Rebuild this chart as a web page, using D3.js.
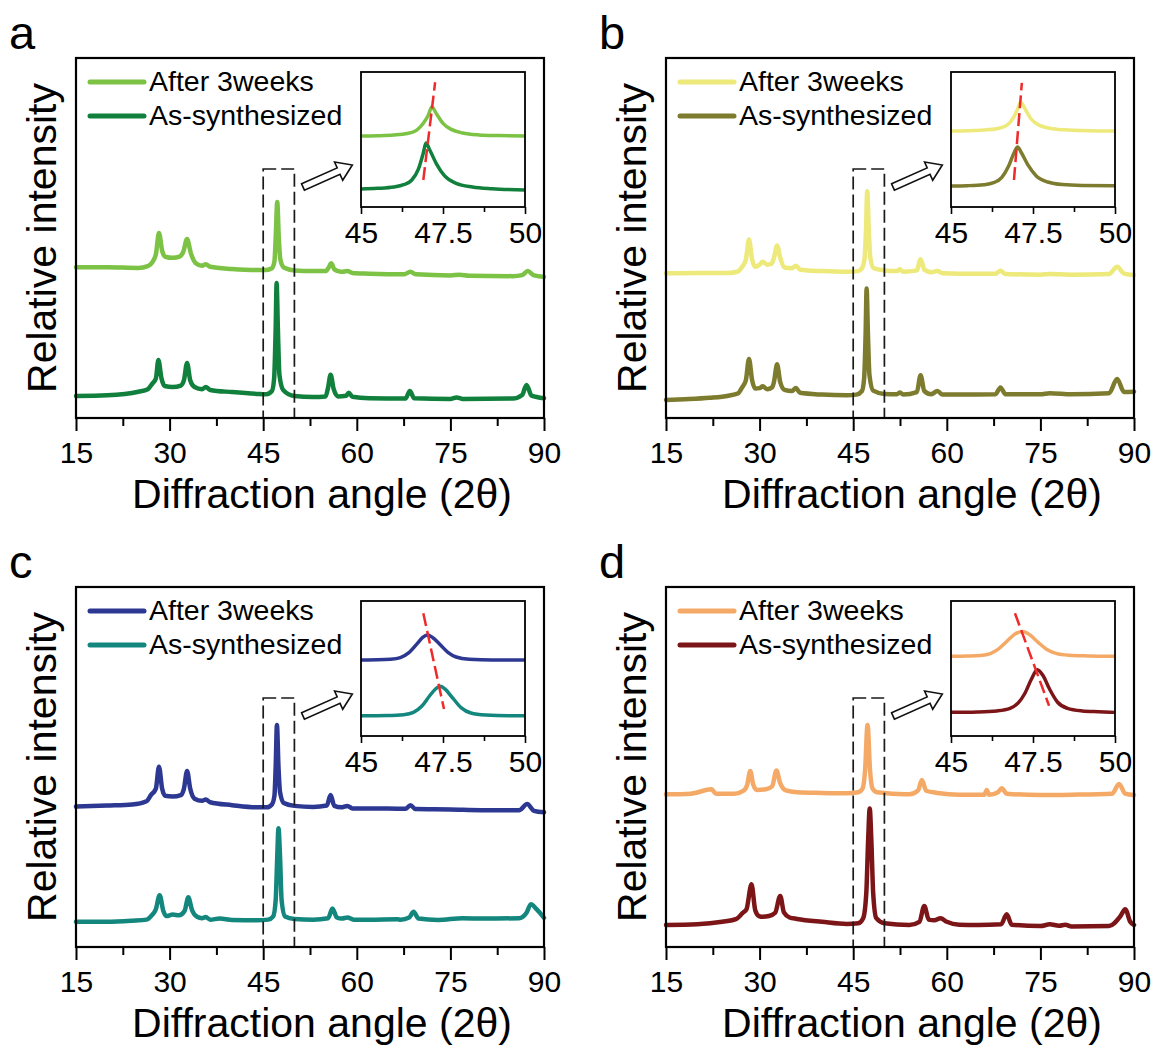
<!DOCTYPE html>
<html>
<head>
<meta charset="utf-8">
<script src="https://cdn.jsdelivr.net/npm/d3@7"></script>
<style>
  body { margin: 0; background: #fff; }
  text { font-family: "Liberation Sans", Arial, Helvetica, sans-serif; fill: #000; }
</style>
</head>
<body>
<script>
// ---- data: [2theta, relative intensity (a.u., 0-100 frame)] ----
const seriesNames = ["After 3weeks", "As-synthesized"];
const panelLetters = ["a", "b", "c", "d"];
const mainTicks = [15, 30, 45, 60, 75, 90];
const mainMinorTicks = [22.5, 37.5, 52.5, 67.5, 82.5];
const insetTicks = [45, 47.5, 50];
const insetMinorTicks = [46.25, 48.75];

const afterA = [[15,41.9],[20,41.9],[25,41.7],[26.5,42.2],[27.2,43.2],[27.8,45.5],[28.3,51.4],[28.8,46.5],[29.3,44.8],[30.5,44.5],[31.6,44.8],[32.2,46.2],[32.8,49.7],[33.4,45.8],[34.2,43.0],[35.2,42.3],[35.8,42.7],[36.5,42.0],[40,41.4],[44,41.1],[45.5,41.1],[46.4,41.6],[46.8,43.5],[47.0,50],[47.25,60],[47.5,50],[47.75,44],[48.3,41.8],[50,41.0],[53,40.8],[55,40.8],[55.5,41.8],[55.9,43.0],[56.4,41.3],[57.5,40.6],[58.5,40.8],[59.3,40.3],[62,40.1],[67.5,39.9],[68.6,40.6],[69.5,39.9],[75,39.6],[76.5,39.8],[78,39.5],[85,39.4],[86.5,39.7],[87.4,40.8],[88.3,39.7],[90,39.2]];
const asA = [[15,6.1],[20,6.3],[25,7.3],[26.5,8.0],[27.2,9.5],[27.8,11],[28.2,16.1],[28.7,11],[29.2,8.9],[30.5,8.6],[31.8,9.0],[32.3,10.5],[32.8,15.3],[33.3,10.5],[34,8.6],[35.2,8.0],[35.8,8.6],[36.5,7.8],[40,7.2],[44,6.7],[45.5,6.6],[46.4,7.5],[46.75,11],[47.0,25],[47.15,37.5],[47.35,25],[47.6,12],[48.2,7.8],[50,6.1],[53,5.8],[55,6.0],[55.4,8.5],[55.8,12.0],[56.3,8.0],[57,6.0],[58.3,6.2],[58.7,7.0],[59.3,5.9],[62,5.5],[67.8,5.4],[68.5,7.5],[69.2,5.5],[75,5.3],[76,5.7],[77,5.3],[85,5.4],[86.5,6.4],[87.2,9.2],[88,6.2],[90,5.5]];

const afterB = [[15,40.2],[20,40.3],[25,40.3],[26.5,40.7],[27.2,42.0],[27.8,44.0],[28.3,49.6],[28.8,44.0],[29.3,42.0],[30.0,42.6],[30.5,43.4],[31.2,42.6],[31.9,42.8],[32.3,44.5],[32.8,47.9],[33.3,44.5],[34.0,41.8],[35.2,41.6],[35.8,42.3],[36.5,41.2],[40,40.8],[44,40.6],[45.8,40.8],[46.4,41.6],[46.8,44],[47.05,52],[47.25,63],[47.5,52],[47.75,44.5],[48.3,41.6],[50,41.0],[52,40.8],[52.5,41.3],[53,40.6],[55.2,41.0],[55.8,44.1],[56.4,41.2],[57.5,40.5],[58.5,40.8],[59.3,40.2],[62,40.1],[67.8,40.1],[68.6,40.9],[69.4,40.0],[75,39.8],[76.5,40.0],[80,39.8],[86,40.0],[87.3,42.0],[88.4,40.1],[90,39.7]];
const asB = [[15,5.0],[18,5.2],[22,5.6],[25,6.2],[26.5,6.8],[27.2,8.5],[27.8,10.5],[28.3,16.4],[28.8,10.5],[29.3,8.2],[30.0,8.3],[30.5,8.8],[31.2,8.0],[32,8.5],[32.3,10.0],[32.8,14.9],[33.3,10.0],[34,7.8],[35.2,7.5],[35.8,8.3],[36.5,7.0],[40,6.5],[44,6.3],[45.5,6.5],[46.4,7.5],[46.75,11],[47.0,24],[47.15,36],[47.35,24],[47.6,12],[48.2,7.6],[50,6.7],[52,6.6],[52.5,7.1],[53,6.5],[55.2,7.2],[55.8,11.9],[56.4,7.5],[57.5,6.6],[58.5,7.5],[59.3,6.5],[62,6.5],[67.8,6.6],[68.6,8.5],[69.4,6.6],[75,6.6],[76.5,6.9],[80,6.6],[86,6.9],[87.3,10.8],[88.4,7.2],[90,7.3]];

const afterC = [[15,39.0],[20,39.3],[24,39.6],[26.3,40.5],[27.0,42.2],[27.8,44],[28.3,50.1],[28.8,44],[29.3,42.0],[30.5,41.8],[31.8,42.2],[32.3,44],[32.8,48.9],[33.3,44],[34,41.2],[35.2,40.6],[35.8,41.0],[36.5,40.2],[40,39.4],[44,38.8],[45.6,38.8],[46.4,39.6],[46.8,42],[47.0,50],[47.2,61.7],[47.45,50],[47.7,43],[48.3,40.0],[50,39.2],[53,38.9],[55.2,39.3],[55.8,42.2],[56.4,39.2],[57.5,38.8],[58.5,39.2],[59.3,38.5],[62,38.5],[67.8,38.4],[68.6,39.4],[69.4,38.3],[75,38.2],[80,38.0],[86,38.0],[87.3,39.7],[88.4,37.8],[90,37.4]];
const asC = [[15,7.0],[20,7.0],[24,7.3],[26.3,7.6],[27.2,8.9],[27.8,10.5],[28.4,14.4],[29.0,10.0],[29.5,8.6],[30.5,9.0],[31.5,8.8],[32.4,10],[33.0,13.8],[33.6,10.2],[34.4,8.4],[35.2,8.0],[35.8,8.3],[36.5,7.6],[38,7.9],[40,7.5],[44,7.4],[45.8,7.6],[46.6,8.5],[47.0,13],[47.25,25],[47.45,33],[47.7,25],[47.95,13],[48.5,8.5],[50,7.8],[53,7.6],[55.4,8.0],[56.1,10.7],[56.8,8.2],[57.6,7.9],[58.5,8.2],[59.5,7.6],[62,7.6],[66.5,7.7],[67,7.6],[68.4,8.2],[69.1,9.8],[69.9,7.9],[73,7.5],[77,8.0],[80,7.9],[86,8.0],[87.2,9.5],[87.9,11.9],[88.8,10.5],[90,8.1]];

const afterD = [[15,42.4],[19,42.6],[22.3,43.8],[23,42.6],[26,42.6],[27.5,43.5],[28.0,45],[28.5,48.9],[29.0,45],[29.6,43.6],[31,43.8],[32,44.6],[32.7,49.0],[33.3,45.5],[34.2,43.5],[36,43.0],[40,42.8],[44,42.7],[45.8,43.0],[46.5,44],[46.9,49],[47.3,61.7],[47.7,49],[48.1,44],[48.8,43.0],[50,42.8],[54,42.4],[55.4,43.5],[56.0,46.4],[56.7,43.4],[58.5,42.8],[62,42.3],[66,42.3],[66.4,43.6],[66.8,42.3],[68.2,43.0],[68.8,44.1],[69.6,42.6],[75,42.2],[80,42.3],[86.5,42.6],[87.6,45.3],[88.6,42.6],[90,42.2]];
const asD = [[15,6.1],[20,6.3],[24,7.0],[26.3,7.8],[27.3,9.5],[27.9,10.5],[28.7,17.4],[29.3,10.2],[29.9,8.6],[30.5,8.4],[31.5,8.6],[32.5,9.5],[33.3,14.2],[33.9,9.6],[34.8,8.2],[36,7.8],[40,7.0],[44,6.4],[45.8,6.6],[46.6,8],[47.1,15],[47.4,30],[47.65,38.5],[47.9,30],[48.2,15],[48.7,8],[50,6.6],[54,6.1],[55.6,7.0],[56.4,11.4],[57.1,7.6],[58,7.4],[59.0,8.0],[60,7.0],[62,6.2],[65,6.1],[68.7,6.3],[69.6,9.1],[70.4,6.2],[75,5.8],[76.5,6.3],[78,5.9],[79,6.2],[80,5.7],[86,5.8],[87.8,8.5],[88.6,10.5],[89.4,7.0],[90,6.1]];

// insets, 45-50 degrees
const insetAfterA = [[45,52.6],[45.5,52.8],[46,53.3],[46.4,54.4],[46.7,57],[46.9,62],[47.05,68],[47.16,74.1],[47.3,69],[47.5,62],[47.75,57.5],[48.1,54.8],[48.6,53.4],[49.2,52.9],[50,52.6]];
const insetAsA = [[45,13.3],[45.5,13.8],[46,14.8],[46.3,16.5],[46.55,20],[46.75,28],[46.9,40],[46.98,47.4],[47.1,42],[47.3,32],[47.55,23],[47.9,17.5],[48.4,14.8],[49,13.5],[50,12.6]];
const insetAfterB = [[45,56.3],[45.5,56.5],[46,57],[46.4,58],[46.7,60.5],[46.9,66],[47.02,72],[47.12,77.8],[47.25,73],[47.45,65],[47.7,60.5],[48.1,58],[48.6,57],[49.2,56.5],[50,56.3]];
const insetAsB = [[45,15.6],[45.5,15.8],[46,16.5],[46.3,18],[46.55,22],[46.75,30],[46.92,40],[47.03,44.4],[47.15,40],[47.35,31],[47.6,23],[47.95,18.5],[48.4,16.6],[49,16],[50,15.8]];
const insetAfterC = [[45,56.3],[45.5,56.4],[45.9,56.8],[46.2,58],[46.45,61.5],[46.7,68],[46.88,73],[47.02,74.8],[47.18,73],[47.4,68],[47.65,62],[47.9,58.5],[48.3,56.8],[49,56.3],[50,56.3]];
const insetAsC = [[45,15],[45.8,15.2],[46.3,15.8],[46.6,17.5],[46.85,22],[47.1,30],[47.28,35],[47.41,36.8],[47.55,35],[47.8,28],[48.05,21],[48.35,17],[48.8,15.5],[49.5,15],[50,15]];
const insetAfterD = [[45,59],[45.5,59.2],[45.9,59.6],[46.2,61],[46.45,64.5],[46.7,70],[46.95,75.5],[47.18,77.5],[47.4,75],[47.65,69.5],[47.9,64.5],[48.2,61.2],[48.6,59.8],[49.2,59.3],[50,59]];
const insetAsD = [[45,17.5],[45.8,17.8],[46.4,18.6],[46.8,20.5],[47.05,24.5],[47.25,31.5],[47.45,42],[47.63,49.1],[47.8,45],[48.0,35],[48.25,25],[48.55,20.5],[49,18.6],[49.5,18],[50,17.5]];

// red guide lines through the peak maxima (inset units)
const shiftLines = [
  [[46.90, 20], [47.26, 92.4]],
  [[46.92, 20], [47.16, 91.9]],
  [[46.90, 90.9], [47.53, 20]],
  [[46.95, 90.9], [47.99, 22.4]]
];

const panelColors = [
  ["#7cc244", "#11803c"],
  ["#ede97a", "#7d7b2e"],
  ["#2c3891", "#13877e"],
  ["#f4aa66", "#7c1517"]
];

const panels = [
  { letter: panelLetters[0], dx: 0,   dy: 0,   after: afterA, as: asA, insetAfter: insetAfterA, insetAs: insetAsA, shift: shiftLines[0], colors: panelColors[0] },
  { letter: panelLetters[1], dx: 590, dy: 0,   after: afterB, as: asB, insetAfter: insetAfterB, insetAs: insetAsB, shift: shiftLines[1], colors: panelColors[1] },
  { letter: panelLetters[2], dx: 0,   dy: 529, after: afterC, as: asC, insetAfter: insetAfterC, insetAs: insetAsC, shift: shiftLines[2], colors: panelColors[2] },
  { letter: panelLetters[3], dx: 590, dy: 529, after: afterD, as: asD, insetAfter: insetAfterD, insetAs: insetAsD, shift: shiftLines[3], colors: panelColors[3] }
];

// ---- drawing ----
const w = 1159, h = 1046;
const svg = d3.select("body").append("svg").attr("width", w).attr("height", h);

function drawPanel(p) {
  const g = svg.append("g").attr("transform", `translate(${p.dx},${p.dy})`);

  // main plot
  const x = d3.scaleLinear().domain([15, 90]).range([76, 544]);
  const y = d3.scaleLinear().domain([0, 100]).range([418, 58]);
  const line = d3.line().x(d => x(d[0])).y(d => y(d[1])).curve(d3.curveMonotoneX);

  g.append("path").datum(p.after)
    .attr("d", line).attr("fill", "none").attr("stroke", p.colors[0])
    .attr("stroke-width", 4.5).attr("stroke-linejoin", "round").attr("stroke-linecap", "round");
  g.append("path").datum(p.as)
    .attr("d", line).attr("fill", "none").attr("stroke", p.colors[1])
    .attr("stroke-width", 4.5).attr("stroke-linejoin", "round").attr("stroke-linecap", "round");

  // dashed zoom box
  g.append("rect")
    .attr("x", x(45)).attr("y", 169)
    .attr("width", x(50) - x(45)).attr("height", 418 - 169)
    .attr("fill", "none").attr("stroke", "#1a1a1a").attr("stroke-width", 1.7)
    .attr("stroke-dasharray", "13,5");

  // axes
  const ax = g.append("g").attr("transform", "translate(0,418)")
    .call(d3.axisBottom(x).tickValues(mainTicks).tickSize(13).tickPadding(11).tickFormat(d3.format("d")));
  ax.select(".domain").remove();
  ax.selectAll("line").attr("stroke", "#000").attr("stroke-width", 2);
  ax.selectAll("text").attr("font-size", 30).style("font-family", "Liberation Sans, Arial, sans-serif");
  const axm = g.append("g").attr("transform", "translate(0,418)")
    .call(d3.axisBottom(x).tickValues(mainMinorTicks).tickSize(8).tickFormat(""));
  axm.select(".domain").remove();
  axm.selectAll("line").attr("stroke", "#000").attr("stroke-width", 2);

  g.append("rect").attr("x", 76).attr("y", 58).attr("width", 468).attr("height", 360)
    .attr("fill", "none").attr("stroke", "#000").attr("stroke-width", 2.2);

  g.append("text").attr("x", 322).attr("y", 508).attr("text-anchor", "middle")
    .attr("font-size", 41).text("Diffraction angle (2θ)");
  g.append("text").attr("transform", "translate(56,238) rotate(-90)").attr("text-anchor", "middle")
    .attr("font-size", 41).text("Relative intensity");
  g.append("text").attr("x", 9).attr("y", 49).attr("font-size", 47).text(p.letter);

  // legend
  const legendY = [82, 116];
  seriesNames.forEach((name, i) => {
    g.append("line").attr("x1", 90).attr("x2", 144).attr("y1", legendY[i]).attr("y2", legendY[i])
      .attr("stroke", p.colors[i]).attr("stroke-width", 5).attr("stroke-linecap", "round");
    g.append("text").attr("x", 149).attr("y", legendY[i] + 9).attr("font-size", 28.5).text(name);
  });

  // hollow arrow
  g.append("polygon")
    .attr("points", "0,-3.5 39,-3.5 39,-10 54,0 39,10 39,3.5 0,3.5")
    .attr("transform", "translate(303,187) rotate(-24)")
    .attr("fill", "#fff").attr("stroke", "#111").attr("stroke-width", 1.6).attr("stroke-linejoin", "miter");

  // inset
  const xi = d3.scaleLinear().domain([45, 50]).range([361, 525]);
  const yi = d3.scaleLinear().domain([0, 100]).range([207, 72]);
  const lineI = d3.line().x(d => xi(d[0])).y(d => yi(d[1])).curve(d3.curveMonotoneX);

  g.append("rect").attr("x", 361).attr("y", 72).attr("width", 164).attr("height", 135)
    .attr("fill", "#fff").attr("stroke", "none");
  g.append("path").datum(p.insetAfter)
    .attr("d", lineI).attr("fill", "none").attr("stroke", p.colors[0])
    .attr("stroke-width", 3.5).attr("stroke-linejoin", "round");
  g.append("path").datum(p.insetAs)
    .attr("d", lineI).attr("fill", "none").attr("stroke", p.colors[1])
    .attr("stroke-width", 3.5).attr("stroke-linejoin", "round");
  g.append("line")
    .attr("x1", xi(p.shift[0][0])).attr("y1", yi(p.shift[0][1]))
    .attr("x2", xi(p.shift[1][0])).attr("y2", yi(p.shift[1][1]))
    .attr("stroke", "#ee2a2a").attr("stroke-width", 2.5).attr("stroke-dasharray", "13,5");

  const ai = g.append("g").attr("transform", "translate(0,207)")
    .call(d3.axisBottom(xi).tickValues(insetTicks).tickSize(7).tickPadding(8).tickFormat(d => d));
  ai.select(".domain").remove();
  ai.selectAll("line").attr("stroke", "#000").attr("stroke-width", 1.6);
  ai.selectAll("text").attr("font-size", 30).style("font-family", "Liberation Sans, Arial, sans-serif");
  const aim = g.append("g").attr("transform", "translate(0,207)")
    .call(d3.axisBottom(xi).tickValues(insetMinorTicks).tickSize(5).tickFormat(""));
  aim.select(".domain").remove();
  aim.selectAll("line").attr("stroke", "#000").attr("stroke-width", 1.6);

  g.append("rect").attr("x", 361).attr("y", 72).attr("width", 164).attr("height", 135)
    .attr("fill", "none").attr("stroke", "#000").attr("stroke-width", 1.8);
}

panels.forEach(drawPanel);
</script>
</body>
</html>
